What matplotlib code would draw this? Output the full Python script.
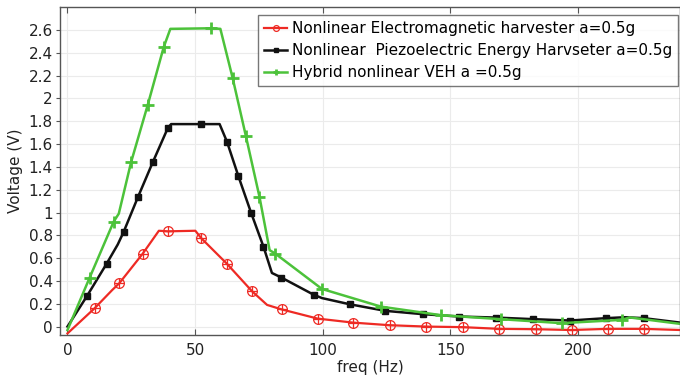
import matplotlib
matplotlib.use("Agg")
import matplotlib.pyplot as plt
import numpy as np

# Nonlinear electromagnetic harvester (red)
em_freq = [0, 10.6, 17.5, 20.3, 29.5, 35.8, 39.3, 50.1, 52.4, 62.5, 72.3, 78.2, 84, 98,
           111.8, 126.2, 140.5, 154.9, 169.2, 183.5, 197.5, 211.6, 225.8, 240]
em_volt = [-0.06, 0.16, 0.32, 0.38, 0.64, 0.84, 0.835, 0.84, 0.775, 0.55, 0.31, 0.19, 0.15, 0.07,
           0.035, 0.012, 0.0, -0.005, -0.02, -0.023, -0.03, -0.02, -0.02, -0.03]
em_mark = [1, 3, 4, 6, 8, 9, 10, 12, 13, 14, 15, 16, 17, 18, 19, 20, 21, 22]

# Nonlinear piezoelectric harvester (black)
pz_freq = [0, 7.7, 15.3, 19.7, 22.0, 27.6, 33.4, 39.3, 40.6, 52.4, 59.6, 62.5, 67.0, 71.9, 76.8,
           80.1, 83.8, 96.4, 99.7, 110.5, 124.5, 139.2, 153.6, 167.9, 182.5, 196.9, 211.2,
           218.4, 225.8, 240]
pz_volt = [0.0, 0.27, 0.55, 0.72, 0.83, 1.135, 1.44, 1.74, 1.775, 1.775, 1.775, 1.62, 1.316, 1.0,
           0.70, 0.47, 0.43, 0.28, 0.25, 0.196, 0.138, 0.109, 0.088, 0.079, 0.065, 0.053, 0.074,
           0.082, 0.074, 0.035]
pz_mark = [1, 2, 4, 5, 6, 7, 9, 11, 12, 13, 14, 16, 17, 19, 20, 21, 22, 23, 24, 25, 26, 28]

# Hybrid nonlinear VEH (green)
hy_freq = [0, 8.7, 18.1, 20.1, 24.9, 31.4, 37.7, 40.3, 56.2, 59.9, 64.7, 69.9, 75.2, 79.2, 81.4,
           99.7, 122.8, 146.3, 169.7, 193.6, 217.1, 220.3, 240]
hy_volt = [-0.03, 0.43, 0.92, 0.99, 1.44, 1.94, 2.45, 2.61, 2.615, 2.61, 2.18, 1.67, 1.14, 0.67,
           0.64, 0.33, 0.175, 0.10, 0.065, 0.03, 0.059, 0.08, 0.024]
hy_mark = [1, 2, 4, 5, 6, 8, 10, 11, 12, 14, 15, 16, 17, 18, 19, 20]

labels = ["Nonlinear Electromagnetic harvester a=0.5g",
          "Nonlinear  Piezoelectric Energy Harvseter a=0.5g",
          "Hybrid nonlinear VEH a =0.5g"]

red = "#ee2a24"
black = "#111111"
green = "#4cc23a"

fig = plt.figure(figsize=(6.8, 3.78), dpi=100)
ax = fig.add_axes([0.088, 0.114, 0.912, 0.867])

l1, = ax.plot(em_freq, em_volt, color=red, lw=1.6, marker="o", markevery=em_mark,
              markersize=7, markerfacecolor="none", markeredgecolor=red, markeredgewidth=0.9)
ax.plot(np.array(em_freq)[em_mark], np.array(em_volt)[em_mark], ls="none", marker="+",
        markersize=7, markeredgecolor=red, markeredgewidth=0.9)
l2, = ax.plot(pz_freq, pz_volt, color=black, lw=1.8, marker="s", markevery=pz_mark,
              markersize=4, markerfacecolor=black, markeredgecolor=black)
l3, = ax.plot(hy_freq, hy_volt, color=green, lw=1.8, marker="+", markevery=hy_mark,
              markersize=8, markeredgewidth=2.0, markeredgecolor=green)

ax.set_xlim(-3, 240)
ax.set_ylim(-0.073, 2.8)
ax.set_xticks([0, 50, 100, 150, 200])
yt = np.round(np.arange(0, 2.61, 0.2), 1)
ax.set_yticks(yt)
ax.set_yticklabels([("%g" % v) for v in yt])
ax.grid(True, color="#ebebeb", lw=0.8)
ax.set_axisbelow(True)
ax.tick_params(axis="x", direction="in", length=4, colors="#555555", labelcolor="#222222",
               labelsize=11, top=True, pad=6)
ax.tick_params(axis="y", direction="out", length=3, colors="#555555", labelcolor="#222222",
               labelsize=11, pad=2)
for s in ax.spines.values():
    s.set_color("#555555")
    s.set_linewidth(1.0)
ax.set_xlabel("freq (Hz)", fontsize=11, color="#222222", labelpad=1)
ax.set_ylabel("Voltage (V)", fontsize=11, color="#222222", labelpad=4)

leg = ax.legend([l1, l2, l3], labels, loc="upper right", bbox_to_anchor=(0.997, 0.976),
                borderaxespad=0.0,
                fontsize=11, frameon=True, fancybox=False, edgecolor="#555555",
                handlelength=1.5, handletextpad=0.3, borderpad=0.4, labelspacing=0.45,
                markerscale=0.6, shadow=False)
leg.get_frame().set_linewidth(1.0)

fig.savefig("out.png", dpi=100)
